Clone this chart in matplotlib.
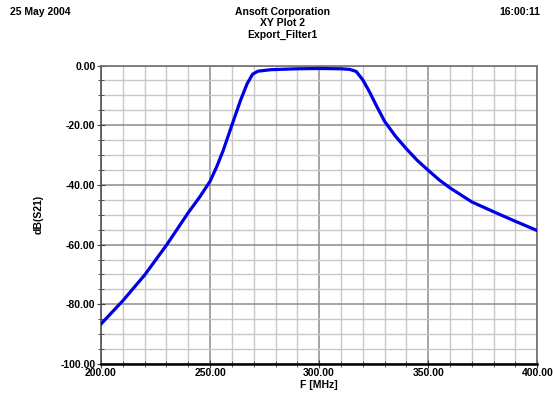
import matplotlib
matplotlib.use('Agg')
import matplotlib.pyplot as plt
from matplotlib.ticker import MultipleLocator, FormatStrFormatter

# F [MHz] and dB(S21)
freq = [200, 210, 220, 230, 240, 245, 250, 253, 256, 260, 264, 267, 269.5,
        272, 278, 290, 300, 310, 314, 317, 320, 323, 326, 330, 335, 340,
        345, 350, 355, 360, 370, 380, 390, 400]
s21 = [-86.6, -78.8, -70.2, -60.2, -49.3, -44.3, -38.8, -34.0, -28.5, -20.0,
       -11.6, -6.1, -2.9, -1.9, -1.4, -1.1, -1.0, -1.1, -1.3, -2.0, -4.8,
       -8.7, -13.1, -18.7, -23.7, -27.9, -31.8, -35.1, -38.3, -41.0, -45.7,
       -49.0, -52.2, -55.3]

plt.rcParams['font.family'] = ['Liberation Sans', 'DejaVu Sans']
plt.rcParams['font.weight'] = 'bold'
fs = 7.5

fig = plt.figure(figsize=(5.53, 3.97), dpi=100)
ax = fig.add_axes([0.1826, 0.083, 0.789, 0.752])

ax.plot(freq, s21, color='#0000e6', lw=2.3, solid_capstyle='round',
        solid_joinstyle='round', zorder=3)

ax.set_xlim(200, 400)
ax.set_ylim(-100, 0)
ax.xaxis.set_major_locator(MultipleLocator(50))
ax.xaxis.set_minor_locator(MultipleLocator(10))
ax.yaxis.set_major_locator(MultipleLocator(20))
ax.yaxis.set_minor_locator(MultipleLocator(5))
ax.xaxis.set_major_formatter(FormatStrFormatter('%.2f'))
ax.yaxis.set_major_formatter(FormatStrFormatter('%.2f'))

ax.grid(True, which='minor', color='#c8c8c8', lw=1.0)
ax.grid(True, which='major', color='#8c8c8c', lw=1.1)
ax.set_axisbelow(True)

ax.tick_params(which='both', direction='inout', colors='#404040',
               labelcolor='black', labelsize=fs, pad=1)
ax.tick_params(which='major', length=6)
ax.tick_params(which='minor', length=4)
ax.tick_params(axis='x', pad=0)
for s in ['top', 'right']:
    ax.spines[s].set_color('#707070')
    ax.spines[s].set_linewidth(1.2)
ax.spines['left'].set_color('#505050')
ax.spines['left'].set_linewidth(1.2)
ax.spines['bottom'].set_color('black')
ax.spines['bottom'].set_linewidth(1.8)

for lab in ax.get_xticklabels() + ax.get_yticklabels():
    lab.set_fontweight('bold')

ax.set_xlabel('F [MHz]', fontsize=fs, fontweight='bold', labelpad=1)
ax.set_ylabel('dB(S21)', fontsize=fs, fontweight='bold', labelpad=12)

fig.text(0.018, 0.97, '25 May 2004', fontsize=fs, fontweight='bold', va='center')
fig.text(0.977, 0.97, '16:00:11', fontsize=fs, fontweight='bold', va='center', ha='right')
fig.text(0.51, 0.97, 'Ansoft Corporation', fontsize=fs, fontweight='bold', va='center', ha='center')
fig.text(0.51, 0.941, 'XY Plot 2', fontsize=fs, fontweight='bold', va='center', ha='center')
fig.text(0.51, 0.912, 'Export_Filter1', fontsize=fs, fontweight='bold', va='center', ha='center')

fig.savefig('out.png', dpi=100, facecolor='white')
